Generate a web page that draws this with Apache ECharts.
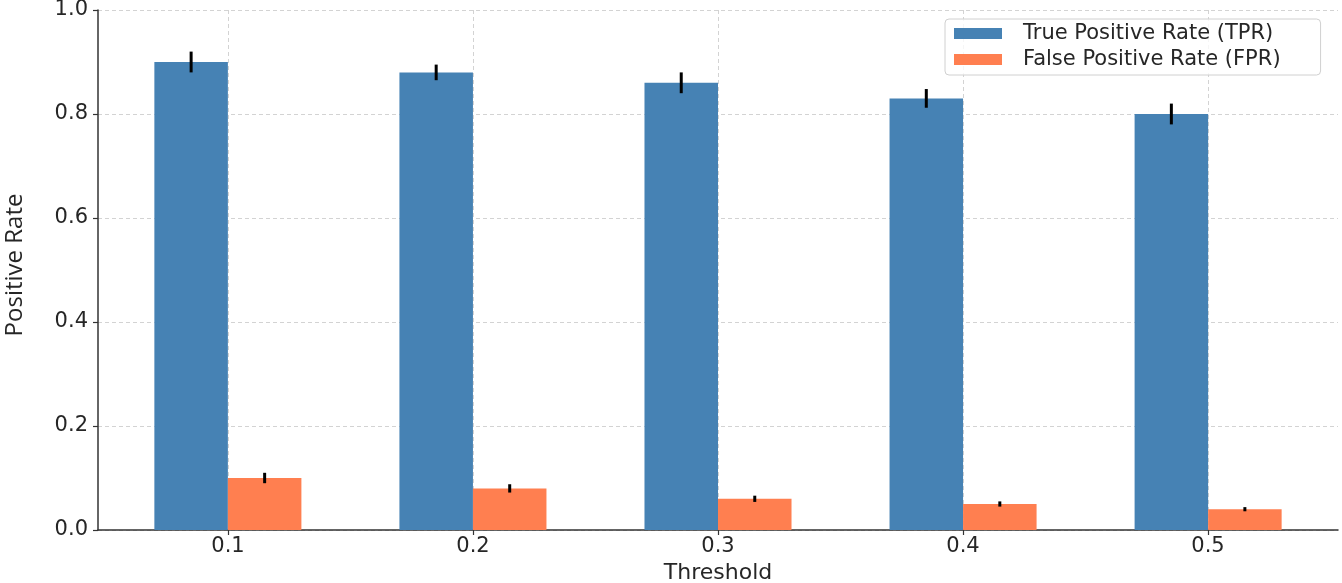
<!DOCTYPE html>
<html>
<head>
<meta charset="utf-8">
<script src="https://cdn.jsdelivr.net/npm/echarts@6/dist/echarts.min.js"></script>
<style>
html,body{margin:0;padding:0;background:#fff;}
#chart{width:1342px;height:583px;}
</style>
</head>
<body>
<div id="chart"></div>
<script>
const thresholds = ['0.1', '0.2', '0.3', '0.4', '0.5'];
const tpr = [0.90, 0.88, 0.86, 0.83, 0.80];
const tprErr = [0.02, 0.015, 0.02, 0.018, 0.02];
const fpr = [0.10, 0.08, 0.06, 0.05, 0.04];
const fprErr = [0.01, 0.008, 0.006, 0.005, 0.004];

const TPR_COLOR = '#4682B4';
const FPR_COLOR = '#FF7F50';
const BAR_W = 0.3;
const FONT = 'DejaVu Sans';
const TXT = '#262626';

function barRender(offset, color) {
  return function (params, api) {
    const x = api.value(0), v = api.value(1);
    const p0 = api.coord([x + offset - BAR_W / 2, v]);
    const p1 = api.coord([x + offset + BAR_W / 2, 0]);
    return {
      type: 'rect',
      shape: { x: p0[0], y: p0[1], width: p1[0] - p0[0], height: p1[1] - p0[1] },
      style: { fill: color }
    };
  };
}
function errRender(offset) {
  return function (params, api) {
    const x = api.value(0);
    const a = api.coord([x + offset, api.value(1)]);
    const b = api.coord([x + offset, api.value(2)]);
    return {
      type: 'line',
      shape: { x1: a[0], y1: a[1], x2: b[0], y2: b[1] },
      style: { stroke: '#000', lineWidth: 3 }
    };
  };
}

const idx = thresholds.map((_, i) => i);
const tprData = idx.map(i => [i, tpr[i]]);
const fprData = idx.map(i => [i, fpr[i]]);
const tprErrData = idx.map(i => [i, tpr[i] - tprErr[i], tpr[i] + tprErr[i]]);
const fprErrData = idx.map(i => [i, fpr[i] - fprErr[i], fpr[i] + fprErr[i]]);

const chart = echarts.init(document.getElementById('chart'), null, { renderer: 'canvas' });
chart.setOption({
  animation: false,
  backgroundColor: '#fff',
  grid: [
    { left: 98, right: 4, top: 10, bottom: 53, containLabel: false, outerBoundsMode: 'none' },
    { left: 228, right: 134, top: 10, bottom: 53, containLabel: false, outerBoundsMode: 'none' }
  ],
  legend: {
    orient: 'vertical',
    left: 945,
    top: 19,
    data: [
      { name: 'True Positive Rate (TPR)', itemStyle: { color: TPR_COLOR } },
      { name: 'False Positive Rate (FPR)', itemStyle: { color: FPR_COLOR } }
    ],
    icon: 'rect',
    itemWidth: 48,
    itemHeight: 11,
    itemGap: 5,
    padding: [4, 40, 5, 9],
    backgroundColor: 'rgba(255,255,255,0.8)',
    borderColor: '#d0d0d0',
    borderWidth: 1,
    borderRadius: 4,
    textStyle: { fontFamily: FONT, fontSize: 21, color: TXT, padding: [0, 0, 0, 16] }
  },
  xAxis: [
    {
      type: 'value', gridIndex: 0, min: -0.53, max: 4.53,
      axisLine: { show: true, onZero: false, lineStyle: { color: '#333', width: 1.5 } },
      axisTick: { show: false }, axisLabel: { show: false }, splitLine: { show: false }
    },
    {
      type: 'category', gridIndex: 1, data: thresholds, boundaryGap: false,
      axisLine: { show: false, onZero: false },
      axisTick: { show: true, length: 5, lineStyle: { color: '#333', width: 1.2 } },
      axisLabel: { fontFamily: FONT, fontSize: 21, color: TXT, margin: 6 },
      splitLine: { show: true, lineStyle: { color: '#d3d3d3', type: [4, 3], width: 1 } },
      name: 'Threshold', nameLocation: 'middle', nameGap: 29,
      nameTextStyle: { fontFamily: FONT, fontSize: 22, color: TXT }
    }
  ],
  yAxis: [
    {
      type: 'value', gridIndex: 0, min: 0, max: 1, interval: 0.2,
      axisLine: { show: true, onZero: false, lineStyle: { color: '#333', width: 1.5 } },
      axisTick: { show: true, length: 5, lineStyle: { color: '#333', width: 1.2 } },
      axisLabel: { fontFamily: FONT, fontSize: 21, color: TXT, margin: 10, formatter: v => v.toFixed(1) },
      splitLine: { show: true, lineStyle: { color: '#d3d3d3', type: [4, 3], width: 1 } },
      name: 'Positive Rate', nameLocation: 'middle', nameGap: 71,
      nameTextStyle: { fontFamily: 'Open Sans', fontSize: 24, color: TXT, padding: [0, 0, 0, 10] }
    },
    {
      type: 'value', gridIndex: 1, min: 0, max: 1, show: false,
      axisLine: { show: false, onZero: false }, axisTick: { show: false },
      axisLabel: { show: false }, splitLine: { show: false }
    }
  ],
  series: [
    { name: 'True Positive Rate (TPR)', type: 'custom', xAxisIndex: 0, yAxisIndex: 0,
      renderItem: barRender(-0.15, TPR_COLOR), data: tprData, itemStyle: { color: TPR_COLOR }, z: 2 },
    { name: 'False Positive Rate (FPR)', type: 'custom', xAxisIndex: 0, yAxisIndex: 0,
      renderItem: barRender(0.15, FPR_COLOR), data: fprData, itemStyle: { color: FPR_COLOR }, z: 2 },
    { name: 'tprErr', type: 'custom', xAxisIndex: 0, yAxisIndex: 0,
      renderItem: errRender(-0.15), data: tprErrData, z: 3 },
    { name: 'fprErr', type: 'custom', xAxisIndex: 0, yAxisIndex: 0,
      renderItem: errRender(0.15), data: fprErrData, z: 3 }
  ]
});
</script>
</body>
</html>
